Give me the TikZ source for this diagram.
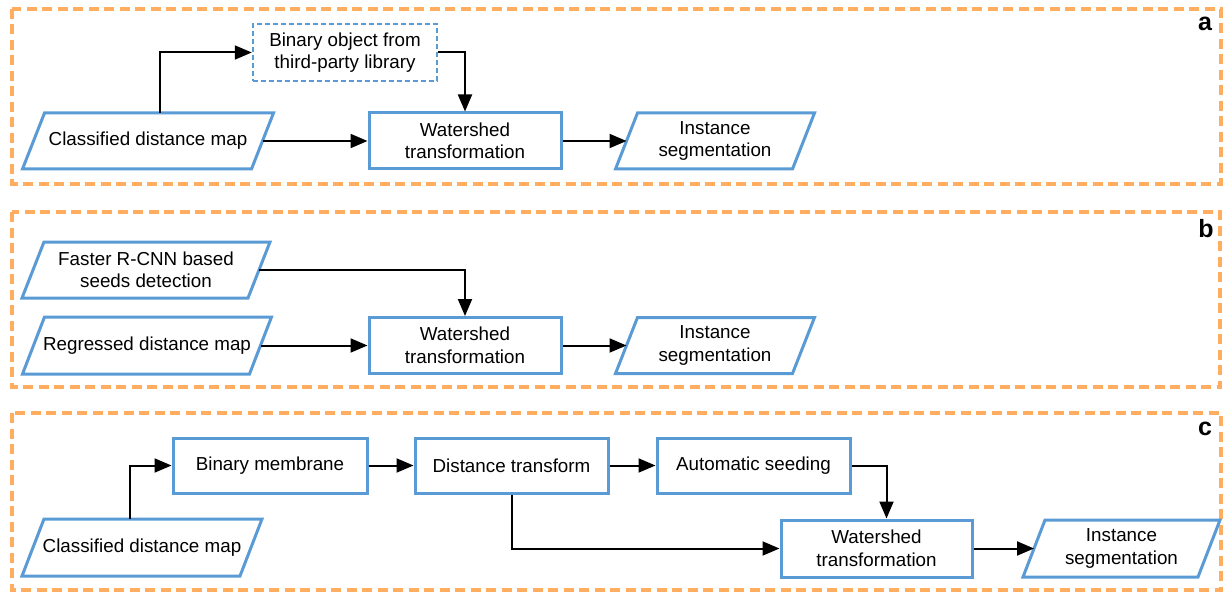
\documentclass[tikz,border=0pt]{standalone}
\usepackage{fontspec}
\setmainfont{Liberation Sans}
\usetikzlibrary{arrows.meta,calc}
\definecolor{boxblue}{RGB}{91,155,213}
\definecolor{frameorange}{RGB}{255,174,96}
\tikzset{
  txt/.style={font=\fontsize{18.8}{22.5}\selectfont, align=center, inner sep=0pt},
  proc/.style={txt, draw=boxblue, line width=3pt, minimum height=56pt},
  extbox/.style={txt, draw=boxblue, line width=2.5pt, dash pattern=on 5pt off 3pt, minimum height=57pt},
  iobox/.style={txt, draw=none, outer sep=0pt, minimum height=56pt},
  paraline/.style={draw=boxblue, line width=3pt, line join=miter},
  flow/.style={line width=2pt, -{Triangle[length=17pt,width=14pt]}},
  frame/.style={draw=frameorange, line width=4pt, dash pattern=on 10pt off 5.5pt},
  tag/.style={font=\fontsize{25}{25}\selectfont\bfseries, inner sep=0pt}
}
\newcommand\paradraw[1]{%
  \draw[paraline] ($(#1.north west)+(11,0)$) -- ($(#1.north east)+(11,0)$)
    -- ($(#1.south east)+(-11,0)$) -- ($(#1.south west)+(-11,0)$) -- cycle;}
\begin{document}
\begin{tikzpicture}[x=1pt,y=-1pt]
\useasboundingbox (0,0) rectangle (1223,596);
% frames
\draw[frame] (12,9) rectangle (1221,184);
\draw[frame] (12,212) rectangle (1220,387);
\draw[frame] (12,413) rectangle (1221,590);
\node[tag] (la) at (1205,24) {a};
\node[tag] (lb) at (1206,229) {b};
\node[tag] (lc) at (1205,429) {c};

% ---------- a ----------
\node[iobox, minimum width=229pt] (clsA) at (148,141) {Classified distance map};
\paradraw{clsA}
\node[extbox, minimum width=184pt] (binA) at (345,52.5) {Binary object from\\third-party library};
\node[proc, minimum width=192pt] (wsA) at (465,141) {Watershed\\transformation};
\node[iobox, minimum width=177pt] (insA) at (715,141) {Instance\\segmentation};
\paradraw{insA}
\coordinate (aUp) at ($(clsA.north)+(12,0)$);
\draw[flow] (aUp) |- (binA.west);
\draw[flow] (binA.east) -| (wsA.north);
\draw[flow] (clsA.east) -- (wsA.west);
\draw[flow] (wsA.east) -- (insA.west);

% ---------- b ----------
\node[iobox, minimum width=226pt] (fasB) at (146,270) {Faster R-CNN based\\seeds detection};
\paradraw{fasB}
\node[iobox, minimum width=227pt, minimum height=57pt] (regB) at (147,345.5) {Regressed distance map};
\paradraw{regB}
\node[proc, minimum width=192pt] (wsB) at (465,345.5) {Watershed\\transformation};
\node[iobox, minimum width=177pt] (insB) at (715,345.5) {Instance\\segmentation};
\paradraw{insB}
\draw[flow] (fasB.east) -| (wsB.north);
\draw[flow] (regB.east) -- (wsB.west);
\draw[flow] (wsB.east) -- (insB.west);

% ---------- c ----------
\node[iobox, minimum width=218pt, minimum height=57pt] (clsC) at (142,547.5) {Classified distance map};
\paradraw{clsC}
\node[proc, minimum width=194pt, minimum height=55pt] (memC) at (270,465.5) {Binary membrane};
\node[proc, minimum width=193pt, minimum height=55pt] (dtC) at (511.5,465.5) {Distance transform};
\node[proc, minimum width=193pt, minimum height=55pt] (asC) at (753.5,465.5) {Automatic seeding};
\node[proc, minimum width=191pt, minimum height=57pt] (wsC) at (876.5,548.5) {Watershed\\transformation};
\node[iobox, minimum width=175pt, minimum height=57pt] (insC) at (1121.5,548.5) {Instance\\segmentation};
\paradraw{insC}
\coordinate (cUp) at ($(clsC.north)+(-12,0)$);
\coordinate (cDown) at ($(wsC.north)+(10,0)$);
\draw[flow] (cUp) |- (memC.west);
\draw[flow] (memC.east) -- (dtC.west);
\draw[flow] (dtC.east) -- (asC.west);
\draw[flow] (asC.east) -| (cDown);
\draw[flow] (dtC.south) |- (wsC.west);
\draw[flow] (wsC.east) -- (insC.west);
\end{tikzpicture}
\end{document}
